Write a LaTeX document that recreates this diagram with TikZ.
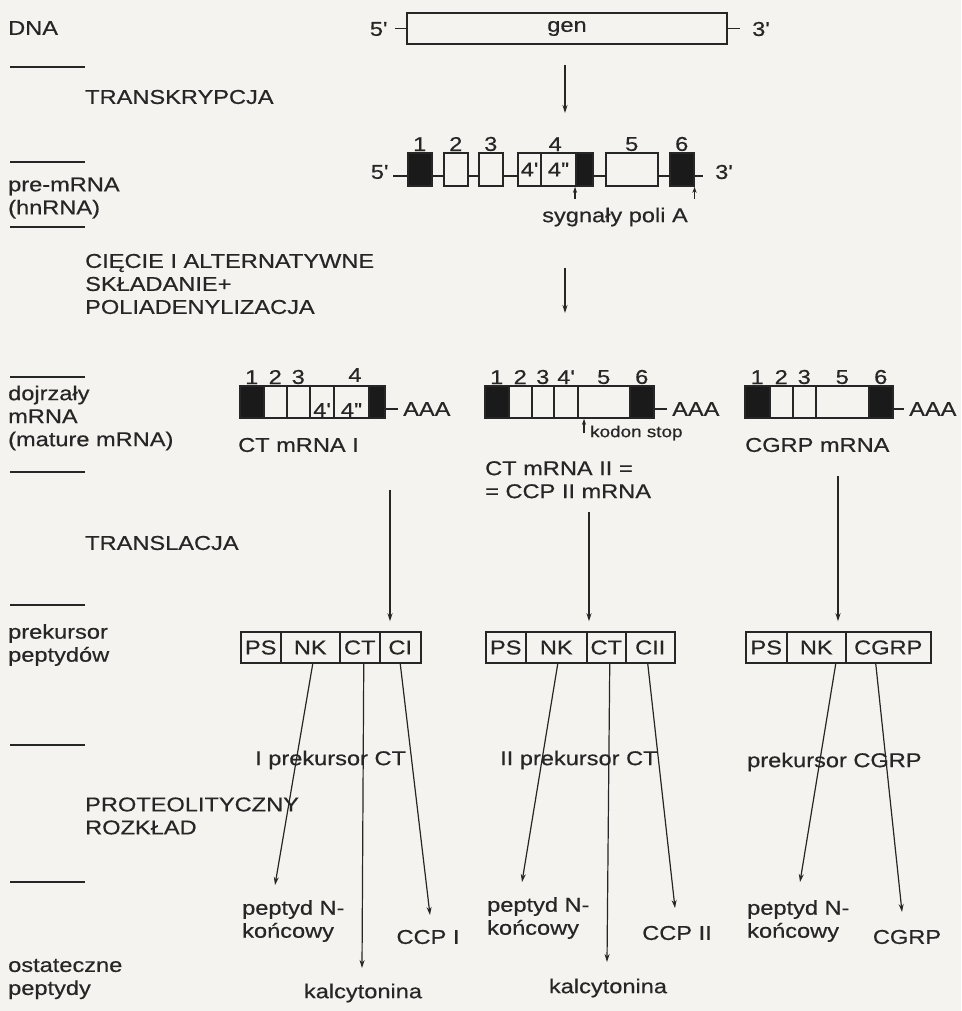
\documentclass[tikz,border=0pt]{standalone}
\usepackage{fontspec}
\setmainfont{Liberation Sans}[FakeStretch=1.18, FakeBold=0.5]
\usetikzlibrary{arrows.meta,positioning,calc}
\definecolor{paper}{HTML}{F4F3EF}
\definecolor{ink}{HTML}{262626}
\definecolor{exondark}{HTML}{1A1A1A}
\newcommand{\pr}{\textquotesingle}

\begin{document}
\begin{tikzpicture}[
  x=1pt, y=-1pt,
  every node/.style={font=\fontsize{20}{23}\selectfont, text=ink, inner sep=2pt},
  stage/.style={anchor=west, align=left},
  rule/.style={draw=ink, line width=1.5pt},
  strand/.style={draw=ink, line width=1.5pt},
  cell/.style={draw=ink, fill=paper, line width=1.5pt, minimum height=32, inner sep=0pt, anchor=west},
  dark/.style={cell, fill=exondark},
  num/.style={inner sep=1pt},
  arr/.style={-{Stealth[length=8pt,width=5pt]}, draw=ink, line width=1.2pt},
  tick/.style={-{Stealth[length=6pt,width=4pt]}, draw=ink, line width=1.1pt},
]
  \fill[paper] (0,0) rectangle (961,1011);
  \useasboundingbox (0,0) rectangle (961,1011);

  % stages
  \node[stage] (sdna) at (6,28) {DNA};
  \node[stage] (strans) at (83,97) {TRANSKRYPCJA};
  \node[stage] (spre) at (6,198) {pre-mRNA\\(hnRNA)};
  \node[stage] (scut) at (83,284) {CIĘCIE I ALTERNATYWNE\\SKŁADANIE+\\POLIADENYLIZACJA};
  \node[stage] (smat) at (6,418) {dojrzały\\mRNA\\(mature mRNA)};
  \node[stage] (stransl) at (83,543) {TRANSLACJA};
  \node[stage] (sprec) at (6,645) {prekursor\\peptydów};
  \node[stage] (sprot) at (83,816) {PROTEOLITYCZNY\\ROZKŁAD};
  \node[stage] (sfin) at (6,979) {ostateczne\\peptydy};
  \foreach \y in {67,162,227,377,472,605,745,882}
    \draw[rule] (10,\y) -- (85,\y);

  % gene
  \node[cell, anchor=center, minimum width=320, minimum height=31] (gen) at (567,28.5) {gen};
  \node[anchor=east, inner xsep=8pt] (g5) at (395,29) {5\pr};
  \node[anchor=west, inner xsep=12pt] (g3) at (740,29) {3\pr};
  \draw[strand] (g5.east |- gen.west) -- (gen.west);
  \draw[strand] (gen.east) -- (g3.west |- gen.east);

  % pre-mRNA
  \coordinate (bb) at (0,176);
  \node[anchor=east, inner xsep=5pt] (r5) at (393,172) {5\pr};
  \node[anchor=west, inner xsep=12pt] (r3) at (703,172) {3\pr};
  \draw[strand] (r5.east |- bb) -- (r3.west |- bb);
  \node[dark, minimum width=24, minimum height=33, label={[num]above:1}] (e1) at (407,169.5) {};
  \node[cell, minimum width=24, minimum height=33, label={[num]above:2}] (e2) at (443,169.5) {};
  \node[cell, minimum width=24, minimum height=33, label={[num]above:3}] (e3) at (478,169.5) {};
  \node[cell, minimum width=23, minimum height=33] (e4a) at (517,169.5) {4\pr};
  \node[cell, minimum width=35, minimum height=33] (e4b) at (540,169.5) {4\pr\pr};
  \node[dark, minimum width=17, minimum height=33] (e4c) at (575,169.5) {};
  \node[cell, minimum width=52, minimum height=33, label={[num]above:5}] (e5) at (605,169.5) {};
  \node[dark, minimum width=24, minimum height=33, label={[num]above:6}] (e6) at (669,169.5) {};
  \node[num, anchor=south] (n4) at ($(e4a.north west)!0.5!(e4c.north east)$) {4};
  \coordinate (pa1) at ([yshift=-12pt]e4c.south west);
  \coordinate (pa2) at ([yshift=-12pt]e6.south east);
  \node (poly) at (615,217) {sygnały poli A};

  % mature mRNA
  \node[dark, minimum width=24, label={[num]above:1}] (m1a) at (239,402) {};
  \node[cell, minimum width=23, label={[num]above:2}] (m1b) at (263,402) {};
  \node[cell, minimum width=23, label={[num]above:3}] (m1c) at (286,402) {};
  \node[cell, minimum width=24] (m1d) at (309,402) {};
  \node[cell, minimum width=35] (m1e) at (333,402) {};
  \node[dark, minimum width=16] (m1f) at (368,402) {};
  \node[num] (m1n4) at (355,375) {4};
  \node (m1d4) at ([yshift=-8pt]m1d.center) {4\pr};
  \node (m1e4) at ([yshift=-8pt]m1e.center) {4\pr\pr};
  \node[anchor=west, inner xsep=5pt] (aaa1) at (398,409) {AAA};
  \node[anchor=west] (ct1) at (236,445) {CT mRNA I};

  \node[dark, minimum width=24, label={[num]above:1}] (m2a) at (484,402) {};
  \node[cell, minimum width=23, label={[num]above:2}] (m2b) at (508,402) {};
  \node[cell, minimum width=22, label={[num]above:3}] (m2c) at (531,402) {};
  \node[cell, minimum width=24, label={[num]above:4\pr}] (m2d) at (553,402) {};
  \node[cell, minimum width=52, label={[num]above:5}] (m2e) at (577,402) {};
  \node[dark, minimum width=24, label={[num]above:6}] (m2f) at (629,402) {};
  \node[anchor=west, inner xsep=5pt] (aaa2) at (667,409) {AAA};
  \coordinate (ks) at (584,433);
  \node[anchor=west, inner xsep=4pt, font=\fontsize{16}{19}\selectfont] (kod) at (586,433) {kodon stop};
  \node[anchor=north west, align=left] (ct2) at (483,459) {CT mRNA II =\\= CCP II mRNA};

  \node[dark, minimum width=25, label={[num]above:1}] (m3a) at (744,402) {};
  \node[cell, minimum width=23, label={[num]above:2}] (m3b) at (769,402) {};
  \node[cell, minimum width=23, label={[num]above:3}] (m3c) at (792,402) {};
  \node[cell, minimum width=53, label={[num]above:5}] (m3d) at (815,402) {};
  \node[dark, minimum width=24, label={[num]above:6}] (m3e) at (868,402) {};
  \node[anchor=west, inner xsep=5pt] (aaa3) at (904,409) {AAA};
  \node[anchor=west] (cg) at (743,445) {CGRP mRNA};

  % precursors
  \node[cell, minimum width=40, minimum height=31] (p1ps) at (240,647.5) {PS};
  \node[cell, minimum width=59, minimum height=31] (p1nk) at (280,647.5) {NK};
  \node[cell, minimum width=40, minimum height=31] (p1ct) at (339,647.5) {CT};
  \node[cell, minimum width=41, minimum height=31] (p1ci) at (379,647.5) {CI};
  \node[cell, minimum width=40, minimum height=31] (p2ps) at (485,647.5) {PS};
  \node[cell, minimum width=61, minimum height=31] (p2nk) at (525,647.5) {NK};
  \node[cell, minimum width=39, minimum height=31] (p2ct) at (586,647.5) {CT};
  \node[cell, minimum width=49, minimum height=31] (p2cii) at (625,647.5) {CII};
  \node[cell, minimum width=41, minimum height=31] (p3ps) at (745,647.5) {PS};
  \node[cell, minimum width=59, minimum height=31] (p3nk) at (786,647.5) {NK};
  \node[cell, minimum width=85, minimum height=31] (p3cg) at (845,647.5) {CGRP};
  \node[anchor=west] (pre1) at (253,760) {I prekursor CT};
  \node[anchor=west] (pre2) at (498,760) {II prekursor CT};
  \node[anchor=west] (pre3) at (745,762) {prekursor CGRP};

  % final peptides
  \node[anchor=north west, align=left] (pep1) at (240,898) {peptyd N-\\końcowy};
  \node[anchor=north west, align=left] (pep2) at (485,895) {peptyd N-\\końcowy};
  \node[anchor=north west, align=left] (pep3) at (745,898) {peptyd N-\\końcowy};
  \node (ccp1) at (428,937) {CCP I};
  \node (ccp2) at (677,933) {CCP II};
  \node (cgrp) at (907,937) {CGRP};
  \node (kal1) at (363,993) {kalcytonina};
  \node (kal2) at (608,988) {kalcytonina};

  \coordinate (a1s) at (565,65);  \coordinate (a1e) at (565,113);
  \coordinate (a2s) at (565,268); \coordinate (a2e) at (565,313);
  \coordinate (t1s) at (390,490); \coordinate (t2s) at (589,512); \coordinate (t3s) at (838,476);
  \coordinate (tpep1) at (275,885); \coordinate (tkal1) at (362,968); \coordinate (tccp1) at (430,915);
  \coordinate (tpep2) at (522,882); \coordinate (tkal2) at (607,962); \coordinate (tccp2) at (675,908);
  \coordinate (tpep3) at (800,882); \coordinate (tcgrp) at (902,912);

  \draw[strand] (m1f.east |- aaa1.west) -- (aaa1.west);
  \draw[strand] (m2f.east |- aaa2.west) -- (aaa2.west);
  \draw[strand] (m3e.east |- aaa3.west) -- (aaa3.west);
  \draw[tick] (pa1) -- (e4c.south west);
  \draw[tick] (pa2) -- (e6.south east);
  \draw[tick] (ks) -- (ks |- m2e.south);

  \draw[arr] (a1s) -- (a1e);
  \draw[arr] (a2s) -- (a2e);
  \draw[arr] (t1s) -- ([yshift=10pt]t1s |- p1ci.north);
  \draw[arr] (t2s) -- ([yshift=10pt]t2s |- p2ct.north);
  \draw[arr] (t3s) -- ([yshift=10pt]t3s |- p3nk.north);
  \draw[arr] ([xshift=2.5pt]p1nk.south) -- (tpep1);
  \draw[arr] ([xshift=4pt]p1ct.south) -- (tkal1);
  \draw[arr] (p1ci.south) -- (tccp1);
  \draw[arr] ([xshift=1.5pt]p2nk.south) -- (tpep2);
  \draw[arr] ([xshift=3.5pt]p2ct.south) -- (tkal2);
  \draw[arr] ([xshift=-2.5pt]p2cii.south) -- (tccp2);
  \draw[arr] ([xshift=19.5pt]p3nk.south) -- (tpep3);
  \draw[arr] ([xshift=-12.5pt]p3cg.south) -- (tcgrp);
\end{tikzpicture}
\end{document}
